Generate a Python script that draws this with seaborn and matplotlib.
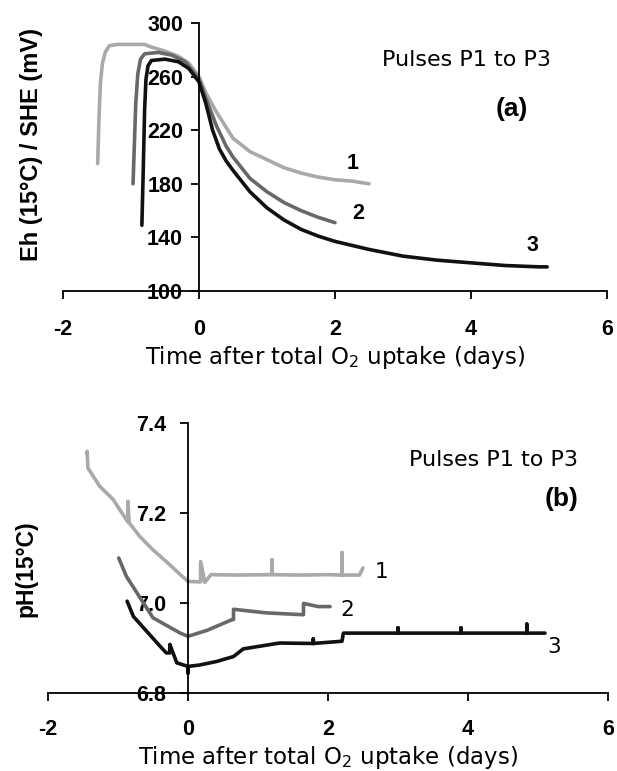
import numpy as np
import pandas as pd
import seaborn as sns
import matplotlib.pyplot as plt

# ---- panel (a): Eh (mV) versus time (days) ----
eh1_t = [-1.49, -1.47, -1.45, -1.42, -1.38, -1.32, -1.2, -1.0, -0.8, -0.7, -0.5,
         -0.3, -0.15, 0.0, 0.1, 0.25, 0.4, 0.5, 0.75, 1.0, 1.25, 1.5, 1.75, 2.0,
         2.25, 2.5]
eh1_v = [195, 230, 255, 270, 278, 283, 284, 284, 284, 282, 279,
         275, 270, 260, 248, 234, 222, 214, 204, 198, 192, 188, 185, 183,
         182, 180]

eh2_t = [-0.97, -0.95, -0.93, -0.9, -0.86, -0.8, -0.6, -0.4, -0.2, 0.0, 0.1,
         0.25, 0.4, 0.5, 0.75, 1.0, 1.25, 1.5, 1.75, 2.0]
eh2_v = [180, 210, 240, 262, 273, 277, 278, 276, 271, 258, 244,
         224, 208, 200, 184, 174, 166, 160, 155, 151]

eh3_t = [-0.84, -0.82, -0.8, -0.78, -0.75, -0.7, -0.5, -0.3, -0.15, 0.0, 0.1,
         0.2, 0.3, 0.4, 0.5, 0.75, 1.0, 1.25, 1.5, 1.75, 2.0, 2.5, 3.0, 3.5,
         4.0, 4.5, 5.0, 5.12]
eh3_v = [149, 190, 235, 258, 268, 272, 273, 271, 266, 256, 240,
         220, 206, 197, 190, 174, 162, 153, 146, 141, 137, 131, 126, 123,
         121, 119, 118, 118]

# ---- panel (b): pH versus time (days) ----
ph1_t = [-1.44, -1.44, -1.43, -1.26, -1.07, -0.88, -0.86, -0.86, -0.84, -0.69,
         -0.5, -0.31, -0.11, 0.0, 0.16, 0.18, 0.18, 0.24, 0.33, 0.7, 1.2, 1.2,
         1.2, 1.6, 2.0, 2.2, 2.2, 2.2, 2.45, 2.5]
ph1_v = [7.33, 7.337, 7.30, 7.259, 7.23, 7.185, 7.18, 7.226, 7.178, 7.148,
         7.118, 7.092, 7.063, 7.048, 7.047, 7.047, 7.092, 7.046, 7.063, 7.062,
         7.063, 7.096, 7.063, 7.062, 7.063, 7.062, 7.112, 7.062, 7.062, 7.078]

ph2_t = [-0.99, -0.88, -0.76, -0.5, -0.11, 0.0, 0.27, 0.63, 0.65, 0.65, 1.12,
         1.63, 1.65, 1.65, 1.86, 2.03]
ph2_v = [7.10, 7.059, 7.03, 6.967, 6.933, 6.926, 6.939, 6.963, 6.963, 6.986,
         6.978, 6.974, 6.974, 6.999, 6.992, 6.992]

ph3_t = [-0.87, -0.78, -0.59, -0.4, -0.31, -0.26, -0.26, -0.16, 0.0, 0.0, 0.0,
         0.16, 0.41, 0.65, 0.79, 1.31, 1.79, 1.79, 1.79, 2.2, 2.22, 3.0, 3.0,
         3.0, 3.9, 3.9, 3.9, 4.84, 4.84, 4.84, 5.1]
ph3_v = [7.004, 6.97, 6.937, 6.904, 6.889, 6.889, 6.908, 6.867, 6.859, 6.844,
         6.859, 6.862, 6.87, 6.881, 6.898, 6.911, 6.91, 6.92, 6.91, 6.915,
         6.933, 6.933, 6.945, 6.933, 6.933, 6.945, 6.933, 6.933, 6.953, 6.933,
         6.933]

pulses = ["1", "2", "3"]
colors = ["#a9a9a9", "#686868", "#111111"]

eh_ticks = [100, 140, 180, 220, 260, 300]
ph_ticks = [6.8, 7.0, 7.2, 7.4]
time_ticks = [-2, 0, 2, 4, 6]


def to_frame(series):
    rows = []
    for name, (t, v) in zip(pulses, series):
        rows += [(name, a, b) for a, b in zip(t, v)]
    return pd.DataFrame(rows, columns=["pulse", "time", "value"])


eh_df = to_frame([(eh1_t, eh1_v), (eh2_t, eh2_v), (eh3_t, eh3_v)])
ph_df = to_frame([(ph1_t, ph1_v), (ph2_t, ph2_v), (ph3_t, ph3_v)])

sns.set_style("white")
plt.rcParams["font.family"] = ["DejaVu Sans"]
plt.rcParams["mathtext.fontset"] = "dejavusans"
plt.rcParams["axes.unicode_minus"] = False
for key in ["text.color", "axes.labelcolor", "xtick.color", "ytick.color"]:
    plt.rcParams[key] = "black"

fig = plt.figure(figsize=(6.17, 7.71), dpi=100)
ax_a = fig.add_axes([0.1021, 0.6226, 0.8817, 0.3476])
ax_b = fig.add_axes([0.0778, 0.1012, 0.9076, 0.3502])

tick_font = dict(family="Liberation Sans", weight="bold", size=15.5)


def style_axes(ax, yticks, ylim, fmt, xpad, ypad):
    ax.set_xlim(-2, 6)
    ax.set_ylim(*ylim)
    ax.spines["left"].set_position(("data", 0))
    for s in ["top", "right"]:
        ax.spines[s].set_visible(False)
    for s in ["left", "bottom"]:
        ax.spines[s].set_linewidth(1.3)
        ax.spines[s].set_color("black")
    ax.set_xticks(time_ticks)
    ax.set_xticklabels([str(v) for v in time_ticks], fontdict=tick_font)
    ax.set_yticks(yticks)
    ax.set_yticklabels([fmt.format(v) for v in yticks], fontdict=tick_font)
    ax.tick_params(axis="both", direction="out", length=5.5, width=1.3,
                   color="black", bottom=True, left=True)
    ax.tick_params(axis="x", pad=xpad)
    ax.tick_params(axis="y", pad=ypad)
    ax.get_yticklabels()[0].set_bbox(dict(facecolor="white", edgecolor="none",
                                          pad=1))


# panel (a)
sns.lineplot(data=eh_df, x="time", y="value", hue="pulse", palette=colors,
             units="pulse", estimator=None, sort=False, linewidth=2.6,
             legend=False, ax=ax_a)
style_axes(ax_a, eh_ticks, (100, 300), "{:d}", 14.5, 6)
ax_a.set_xlabel("Time after total O$_2$ uptake (days)", fontsize=16.5,
                va="center")
ax_a.xaxis.set_label_coords(0.5, -0.25)
ax_a.set_ylabel("Eh (15°C) / SHE (mV)", fontsize=17, fontweight="bold",
                family="Liberation Sans", va="center")
ax_a.yaxis.set_label_coords(-0.058, 0.548)
ax_a.text(3.94, 272, "Pulses P1 to P3", fontsize=16, ha="center",
          va="center")
ax_a.text(4.6, 236, "(a)", fontsize=19, fontweight="bold",
          family="Liberation Sans", ha="center", va="center")
for name, (x, y) in zip(pulses, [(2.26, 195), (2.34, 158), (4.9, 134)]):
    ax_a.text(x, y, name, fontsize=15.5, ha="center", va="center",
              fontweight="bold", family="Liberation Sans")

# panel (b)
sns.lineplot(data=ph_df, x="time", y="value", hue="pulse", palette=colors,
             units="pulse", estimator=None, sort=False, linewidth=2.6,
             legend=False, ax=ax_b)
style_axes(ax_b, ph_ticks, (6.8, 7.4), "{:.1f}", 13.5, 10)
ax_b.set_xlabel("Time after total O$_2$ uptake (days)", fontsize=16.5,
                va="center")
ax_b.xaxis.set_label_coords(0.5, -0.24)
ax_b.set_ylabel("pH(15°C)", fontsize=16.5, fontweight="bold",
                family="Liberation Sans", va="center")
ax_b.yaxis.set_label_coords(-0.039, 0.46)
ax_b.text(4.37, 7.318, "Pulses P1 to P3", fontsize=16, ha="center",
          va="center")
ax_b.text(5.34, 7.23, "(b)", fontsize=19, fontweight="bold",
          family="Liberation Sans", ha="center", va="center")
for name, (x, y) in zip(pulses, [(2.76, 7.069), (2.27, 6.985), (5.23, 6.902)]):
    ax_b.text(x, y, name, fontsize=15.5, ha="center", va="center")

fig.savefig("out.png", dpi=100)
